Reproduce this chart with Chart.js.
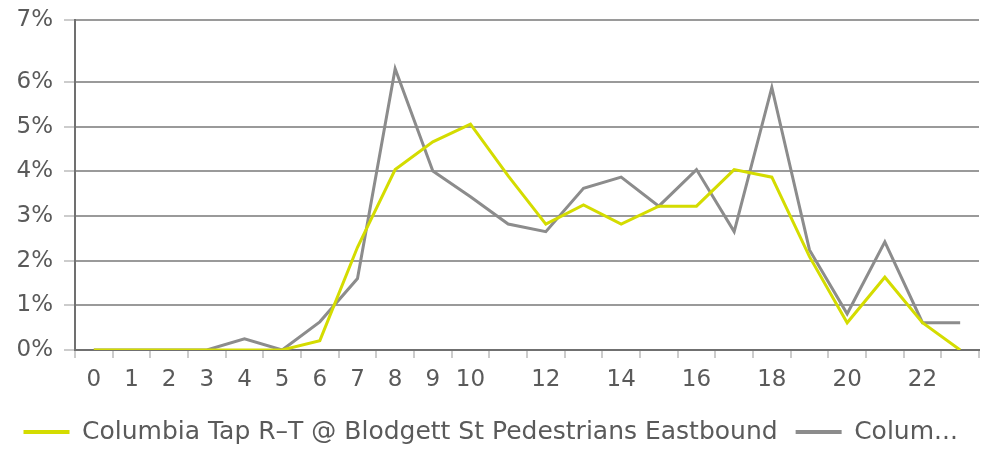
<!DOCTYPE html>
<html>
<head>
<meta charset="utf-8">
<script src="https://cdn.jsdelivr.net/npm/chart.js@4.4.1/dist/chart.umd.min.js"></script>
<style>
  html, body { margin: 0; padding: 0; background: #fff; }
  #wrap { width: 989px; height: 450px; position: relative; }
</style>
</head>
<body>
<div id="wrap"><canvas id="chart"></canvas></div>
<script>
// hours of the day
const hours = ['0','1','2','3','4','5','6','7','8','9','10','11','12','13','14','15','16','17','18','19','20','21','22','23'];
// labels actually printed under the axis
const hourTickLabels = ['0','1','2','3','4','5','6','7','8','9','10','','12','','14','','16','','18','','20','','22',''];

// share of daily counts, in percent
const eastbound = [0, 0, 0, 0, 0, 0, 0.21, 2.3, 4.04, 4.66, 5.06, 3.9, 2.82, 3.25, 2.82, 3.22, 3.22, 4.04, 3.87, 2.09, 0.61, 1.63, 0.61, 0];
const westbound = [0, 0, 0, 0, 0.25, 0, 0.63, 1.6, 6.3, 4.01, 3.43, 2.82, 2.65, 3.62, 3.87, 3.22, 4.04, 2.65, 5.88, 2.24, 0.81, 2.42, 0.61, 0.61];

const seriesNames = ['Columbia Tap R\u2013T @ Blodgett St Pedestrians Eastbound', 'Columbia Tap R\u2013T @ Blodgett St Pedestrians Westbound'];
const legendTexts = ['Columbia Tap R\u2013T @ Blodgett St Pedestrians Eastbound', 'Colum...'];

// the top line sits a bit above 7 but is labelled 7%
const yTickValues = [0, 1, 2, 3, 4, 5, 6, 7.39];

const FONT = '"DejaVu Sans", sans-serif';
const TEXT = '#5a5a5a';

const ctx = document.getElementById('chart').getContext('2d');
new Chart(ctx, {
    type: 'line',
    data: {
        labels: hours,
        datasets: [
            {
                label: seriesNames[0],
                data: eastbound,
                borderColor: '#d4dc00',
                backgroundColor: '#d4dc00',
                borderWidth: 3,
                pointRadius: 0,
                tension: 0
            },
            {
                label: seriesNames[1],
                data: westbound,
                borderColor: '#8c8c8c',
                backgroundColor: '#8c8c8c',
                borderWidth: 3,
                pointRadius: 0,
                tension: 0
            }
        ]
    },
    options: {
        responsive: true,
        maintainAspectRatio: false,
        animation: false,
        // negative bottom pad lets the legend's own padding hang off the canvas
        layout: { padding: { top: 4, right: 10, left: 5.5, bottom: -4.5 } },
        plugins: {
            tooltip: { enabled: false },
            legend: {
                position: 'bottom',
                align: 'start',
                labels: {
                    font: { family: FONT, size: 25 },
                    color: TEXT,
                    boxWidth: 46,
                    boxHeight: 4,
                    padding: 18,
                    generateLabels: function (chart) {
                        const items = Chart.defaults.plugins.legend.labels.generateLabels(chart);
                        items.forEach((item, i) => {
                            item.text = legendTexts[i];
                            item.lineWidth = 0;
                        });
                        return items;
                    }
                }
            }
        },
        scales: {
            x: {
                offset: true,
                grid: {
                    drawOnChartArea: false,
                    drawTicks: true,
                    tickLength: 8,
                    color: '#cccccc',
                    lineWidth: 2,
                    offset: true
                },
                border: { color: '#707070', width: 2 },
                ticks: {
                    autoSkip: false,
                    maxRotation: 0,
                    font: { family: FONT, size: 23, lineHeight: 1.457 },
                    color: TEXT,
                    padding: 5,
                    callback: (v, i) => hourTickLabels[i]
                }
            },
            y: {
                min: 0,
                max: yTickValues[yTickValues.length - 1],
                afterBuildTicks: (scale) => {
                    scale.ticks = yTickValues.map(v => ({ value: v }));
                },
                grid: {
                    color: '#9a9a9a',
                    tickColor: '#cccccc',
                    lineWidth: 2,
                    tickLength: 11
                },
                border: { color: '#707070', width: 2 },
                ticks: {
                    font: { family: FONT, size: 23, lineHeight: 0.78 },
                    color: TEXT,
                    padding: 11,
                    callback: (v) => Math.round(v) + '%'
                }
            }
        }
    }
});
</script>
</body>
</html>
